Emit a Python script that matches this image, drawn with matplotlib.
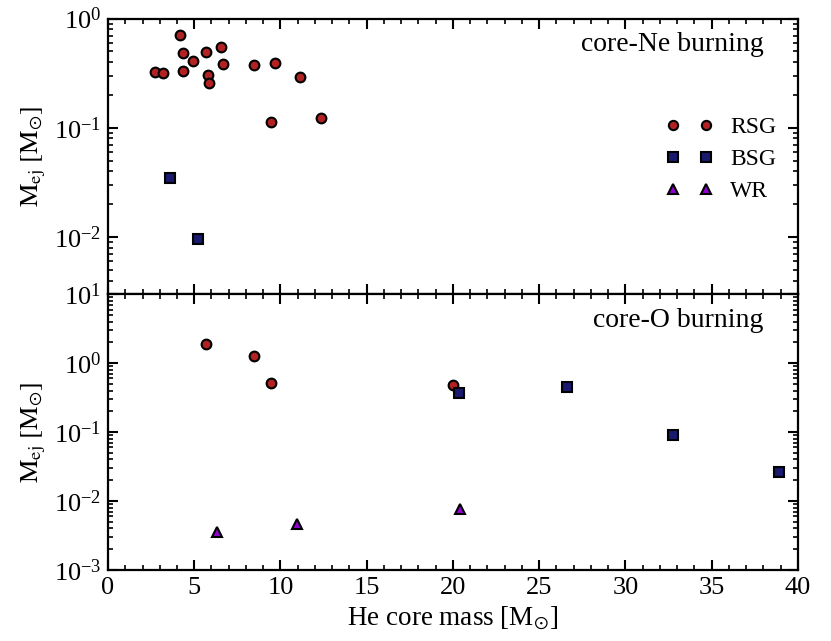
import numpy as np
import matplotlib
matplotlib.use('Agg')
from matplotlib import pyplot as plt
from matplotlib.ticker import MultipleLocator, LogLocator, NullFormatter

plt.rcParams['font.family'] = ['Liberation Serif', 'DejaVu Serif']
plt.rcParams['mathtext.fontset'] = 'stix'

# core-Ne burning
ne_rsg_x = [2.75, 3.17, 4.18, 4.32, 4.37, 4.90, 5.71, 5.80, 5.83, 6.54, 6.67, 8.44, 9.67, 9.48, 11.14, 12.36]
ne_rsg_y = [0.326, 0.317, 0.71, 0.48, 0.333, 0.405, 0.49, 0.304, 0.255, 0.552, 0.383, 0.375, 0.394, 0.114, 0.292, 0.122]
ne_bsg_x = [3.60, 5.22]
ne_bsg_y = [0.0346, 0.0097]

# core-O burning
o_rsg_x = [5.71, 8.46, 9.48, 19.99]
o_rsg_y = [1.87, 1.27, 0.515, 0.482]
o_bsg_x = [20.37, 26.6, 32.76, 38.94]
o_bsg_y = [0.369, 0.451, 0.0914, 0.0259]
o_wr_x = [6.33, 10.95, 20.41]
o_wr_y = [0.00352, 0.0046, 0.00767]

red = '#b22222'
navy = '#191970'
violet = '#9400d3'

fig, (ax1, ax2) = plt.subplots(2, 1, sharex=True, figsize=(8.31, 6.41), dpi=100)
plt.subplots_adjust(left=0.130, right=0.960, top=0.971, bottom=0.111, hspace=0)

kw = dict(ls='none', ms=7, mec='k', mew=1.5)
ax1.plot(ne_rsg_x, ne_rsg_y, 'o', color=red, label='RSG', **kw)
ax1.plot(ne_bsg_x, ne_bsg_y, 's', color=navy, label='BSG', **kw)
ax1.plot([], [], '^', color=violet, label='WR', **kw)

ax2.plot(o_rsg_x, o_rsg_y, 'o', color=red, **kw)
ax2.plot(o_bsg_x, o_bsg_y, 's', color=navy, **kw)
ax2.plot(o_wr_x, o_wr_y, '^', color=violet, **kw)

ax1.set_yscale('log')
ax2.set_yscale('log')
ax1.set_ylim(3e-3, 1)
ax2.set_ylim(1e-3, 10)
ax1.set_yticks([1e-2, 1e-1, 1e0])
ax2.set_yticks([1e-3, 1e-2, 1e-1, 1e0, 1e1])
ax2.set_xlim(0, 40)
ax2.xaxis.set_major_locator(MultipleLocator(5))
ax2.xaxis.set_minor_locator(MultipleLocator(1))

for ax in (ax1, ax2):
    ax.yaxis.set_minor_locator(LogLocator(base=10, subs=np.arange(2, 10), numticks=20))
    ax.yaxis.set_minor_formatter(NullFormatter())
    ax.tick_params(which='both', direction='in', top=True, right=True, labelsize=19)
    ax.tick_params(which='major', length=7, width=1.5, pad=5)
    ax.tick_params(which='minor', length=3.5, width=1.2)
    for s in ax.spines.values():
        s.set_linewidth(1.6)
    ax.set_ylabel(r'$\rm M_{ej}\ [M_{\odot}]$', fontsize=19)

ax1.text(0.95, 0.95, 'core-Ne burning', transform=ax1.transAxes, ha='right', va='top', fontsize=20)
ax2.text(0.95, 0.95, 'core-O burning', transform=ax2.transAxes, ha='right', va='top', fontsize=20)
ax2.set_xlabel(r'He core mass [M$_{\odot}$]', fontsize=19.5)

ax1.legend(loc='center right', bbox_to_anchor=(1.0, 0.49), numpoints=2, frameon=False,
           fontsize=17, markerscale=0.95, handlelength=2.0, handletextpad=0.75, labelspacing=0.45)

fig.savefig('out.png', dpi=100)
